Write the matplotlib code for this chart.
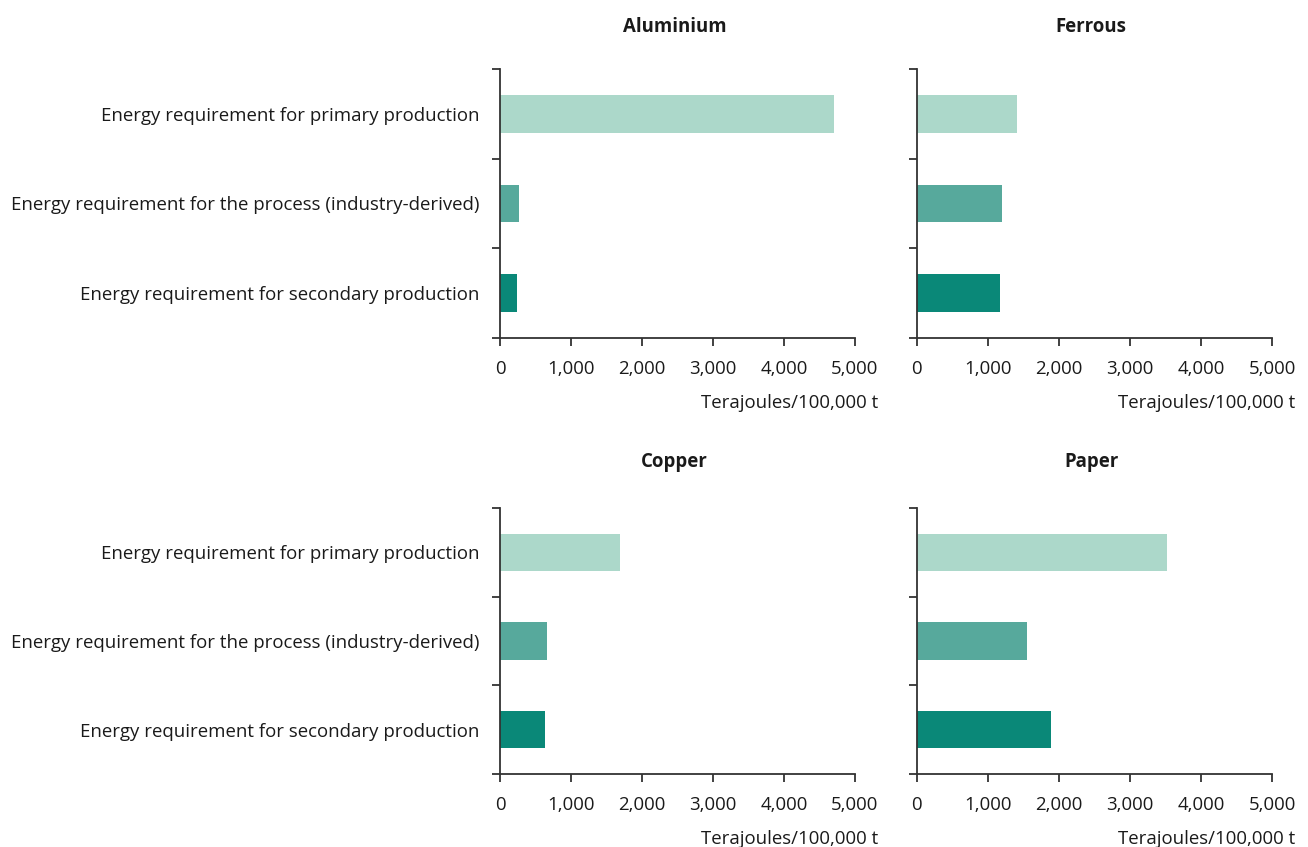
import matplotlib
matplotlib.use("Agg")
import matplotlib.pyplot as plt
from matplotlib.ticker import FuncFormatter

plt.rcParams['font.family'] = ['Open Sans', 'DejaVu Sans']

categories = ["Energy requirement for primary production",
              "Energy requirement for the process (industry-derived)",
              "Energy requirement for secondary production"]
materials = ["Aluminium", "Ferrous", "Copper", "Paper"]
aluminium = [4700, 270, 240]
ferrous = [1410, 1200, 1170]
copper = [1690, 660, 630]
paper = [3520, 1550, 1890]
values = [aluminium, ferrous, copper, paper]
xticks = [0, 1000, 2000, 3000, 4000, 5000]
unit_label = "Terajoules/100,000 t"

colors = ["#acd8ca", "#57a99c", "#0a8878"]
W, H = 1308, 847
fig = plt.figure(figsize=(W / 100, H / 100), dpi=100)

# (left px, top px, right px, bottom px)
boxes = [(500, 69, 855, 338), (916.7, 69, 1272, 338),
         (500, 508, 855, 774), (916.7, 508, 1272, 774)]

fs = 13.4
for i, (mat, vals) in enumerate(zip(materials, values)):
    l, t, r, b = boxes[i]
    ax = fig.add_axes([l / W, 1 - b / H, (r - l) / W, (b - t) / H])
    y = list(range(len(categories)))
    ax.barh(y, vals, height=0.42, color=colors, zorder=2)
    ax.set_ylim(2.5, -0.5)
    ax.set_xlim(0, 5000)
    for s in ["top", "right"]:
        ax.spines[s].set_visible(False)
    for s in ["left", "bottom"]:
        ax.spines[s].set_color("#333333")
        ax.spines[s].set_linewidth(1.3)
    ax.set_yticks([-0.5, 0.5, 1.5, 2.5])
    ax.set_yticklabels([])
    ax.set_yticks(y, minor=True)
    if i % 2 == 0:
        ax.set_yticklabels(categories, minor=True, fontsize=fs, color="#1a1a1a")
    else:
        ax.set_yticklabels([], minor=True)
    ax.tick_params(axis="y", which="major", length=6, width=1.3, color="#333333", direction="out")
    ax.tick_params(axis="y", which="minor", length=0, pad=15)
    ax.set_xticks(xticks)
    ax.xaxis.set_major_formatter(FuncFormatter(lambda v, p: f"{int(v):,}"))
    ax.tick_params(axis="x", length=6, width=1.3, color="#333333", pad=10,
                   labelsize=fs, labelcolor="#1a1a1a")
    ax.text(1 + 23 / (r - l), -65 / (b - t), unit_label, transform=ax.transAxes,
            ha="right", va="center", fontsize=fs, color="#1a1a1a")
    ax.text(0.5 - 3 / (r - l), 1 + (42 if i < 2 else 46) / (b - t), mat, transform=ax.transAxes,
            ha="center", va="center", fontsize=fs, fontweight="bold", color="#1a1a1a")

fig.savefig("out.png", dpi=100)
